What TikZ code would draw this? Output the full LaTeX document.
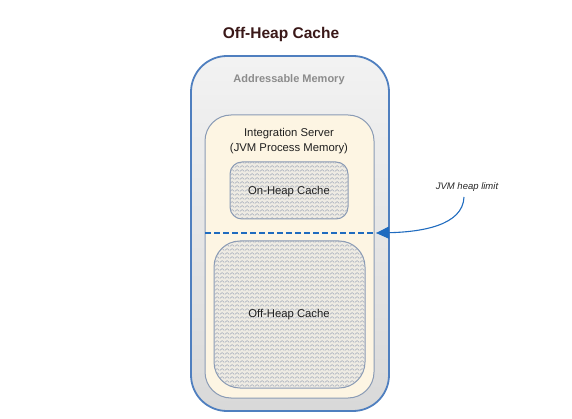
\documentclass[tikz,border=0pt]{standalone}
\usepackage{fontspec}
\setmainfont{Liberation Sans}
\usetikzlibrary{arrows.meta,patterns.meta}
\definecolor{outerblue}{HTML}{4F7FBF}
\definecolor{innerline}{HTML}{8A9BB5}
\definecolor{cream}{HTML}{FDF5E3}
\definecolor{patbg}{HTML}{EEEBE3}
\definecolor{patfg}{HTML}{9AA4B6}
\definecolor{dashblue}{HTML}{1F6BBF}
\definecolor{titlecol}{HTML}{3A1818}
\tikzdeclarepattern{name=zz, type=uncolored, bounding box={(0pt,0pt) and (5pt,3.5pt)}, tile size={(5pt,3.5pt)}, code={\draw[line width=0.5pt] (0pt,0.7pt) -- (2.5pt,2.8pt) -- (5pt,0.7pt);}}
\tikzset{
  cachebox/.style={draw=innerline, line width=1pt, fill=patbg, postaction={pattern=zz, pattern color=patfg}},
  lbl/.style={font=\bfseries\fontsize{11}{13}\selectfont, text=black!80},
  plain/.style={font=\fontsize{11.3}{13}\selectfont, text=black!88},
}
\begin{document}
\begin{tikzpicture}[x=1pt,y=-1pt]
\useasboundingbox (0,0) rectangle (572,419);
% outer addressable memory
\path[draw=outerblue, line width=1.8pt, top color=black!5, bottom color=black!15, rounded corners=36pt] (191,56) rectangle (389,411);
% integration server
\path[draw=innerline, line width=1pt, fill=cream, rounded corners=26pt] (205,115) rectangle (374,398);
% on-heap
\path[cachebox, rounded corners=12pt] (230,162) rectangle (348,219);
% off-heap
\path[cachebox, rounded corners=26pt] (214,241) rectangle (365,388);
% texts
\node[font=\bfseries\fontsize{15.5}{18}\selectfont, text=titlecol] (title) at (281,34) {Off-Heap Cache};
\node[lbl, text=black!45] (addr) at (289,79.5) {Addressable Memory};
\node[plain, font=\fontsize{11.3}{15}\selectfont, align=center] (is) at (289,141) {Integration Server\\(JVM Process Memory)};
\node[plain] (onheap) at (289,191.5) {On-Heap Cache};
\node[plain] (offheap) at (289,314.5) {Off-Heap Cache};
\node[font=\itshape\fontsize{9.5}{11}\selectfont, text=black!85] (jvm) at (467,187) {JVM heap limit};
% heap limit
\coordinate (dl) at (205,233);
\coordinate (dr) at (376,233);
\draw[dashblue, line width=1.6pt, dash pattern=on 6pt off 3pt] (dl) -- (dr);
\draw[dashblue, line width=1.1pt, -{Triangle[length=13pt,width=12pt]}] (464,197) .. controls (463,226) and (420,232) .. (dr);
\end{tikzpicture}
\end{document}
